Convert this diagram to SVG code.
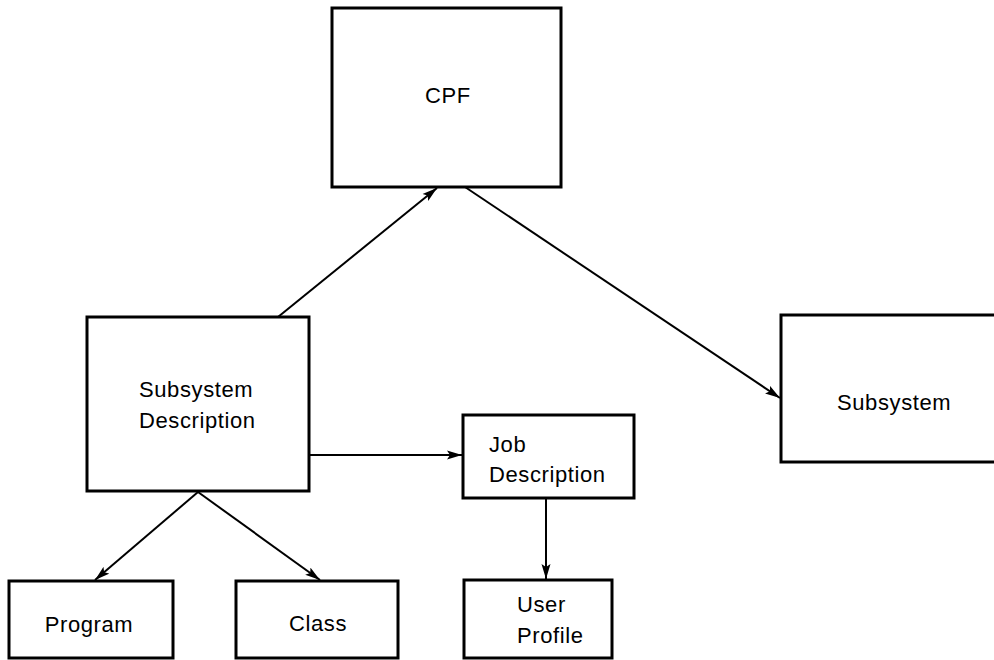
<svg xmlns="http://www.w3.org/2000/svg" width="994" height="660" viewBox="0 0 994 660">
  <style>
    .box { fill: #ffffff; stroke: #000000; stroke-width: 3; }
    .lbl { font-family: "Liberation Sans", Arial, sans-serif; font-size: 22px; fill: #000000; letter-spacing: 0.6px; }
    .conn { stroke: #000000; stroke-width: 2; fill: none; marker-end: url(#arrow); }
  </style>
  <defs>
    <marker id="arrow" markerUnits="userSpaceOnUse" markerWidth="16" markerHeight="10" refX="15" refY="5" orient="auto">
      <path d="M0,0.5 L15,5 L0,9.5 L3,5 Z" fill="#000000"/>
    </marker>
  </defs>
  <rect width="994" height="660" fill="#ffffff"/>

  <g id="connectors">
    <line class="conn" x1="278" y1="317" x2="437" y2="188"/>
    <line class="conn" x1="465" y1="187" x2="780" y2="398"/>
    <line class="conn" x1="309" y1="455" x2="462" y2="455"/>
    <line class="conn" x1="546" y1="498" x2="546" y2="579"/>
    <line class="conn" x1="198" y1="492" x2="95" y2="580"/>
    <line class="conn" x1="198" y1="492" x2="320" y2="580"/>
  </g>

  <g id="cpf">
    <rect class="box" x="332" y="8" width="229" height="179"/>
    <text class="lbl" x="448" y="103" text-anchor="middle">CPF</text>
  </g>

  <g id="subsystem-description">
    <rect class="box" x="87" y="317" width="222" height="174"/>
    <text class="lbl" x="139" y="397">Subsystem</text>
    <text class="lbl" x="139" y="428">Description</text>
  </g>

  <g id="subsystem">
    <rect class="box" x="781" y="315" width="230" height="147"/>
    <text class="lbl" x="837" y="410">Subsystem</text>
  </g>

  <g id="job-description">
    <rect class="box" x="463" y="415" width="171" height="83"/>
    <text class="lbl" x="489" y="452">Job</text>
    <text class="lbl" x="489" y="482">Description</text>
  </g>

  <g id="program">
    <rect class="box" x="9" y="581" width="164" height="77"/>
    <text class="lbl" x="89" y="632" text-anchor="middle">Program</text>
  </g>

  <g id="class">
    <rect class="box" x="236" y="581" width="162" height="77"/>
    <text class="lbl" x="318" y="631" text-anchor="middle">Class</text>
  </g>

  <g id="user-profile">
    <rect class="box" x="464" y="580" width="148" height="78"/>
    <text class="lbl" x="517" y="612">User</text>
    <text class="lbl" x="517" y="643">Profile</text>
  </g>
</svg>
